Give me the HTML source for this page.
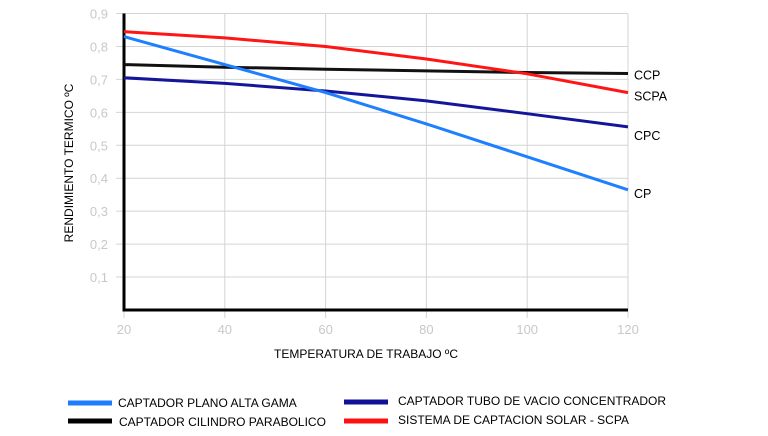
<!DOCTYPE html>
<html><head><meta charset="utf-8"><style>
body{margin:0;background:#fff;}
svg{display:block;font-family:"Liberation Sans",sans-serif;}
</style></head><body>
<svg width="768" height="436">
<g id="grid"></g><g id="series"></g><g id="labels"></g>
<text x="73" y="163" transform="rotate(-90 73 163)" text-anchor="middle" font-size="12" fill="#000">RENDIMIENTO TERMICO ºC</text>
<text x="366" y="358" text-anchor="middle" font-size="12" fill="#000">TEMPERATURA DE TRABAJO ºC</text>
<g>
<line x1="68" y1="403" x2="112" y2="403" stroke="#1e7cff" stroke-width="5"/>
<text x="118" y="407" font-size="12">CAPTADOR PLANO ALTA GAMA</text>
<line x1="68" y1="421" x2="112" y2="421" stroke="#000" stroke-width="5"/>
<text x="119" y="426" font-size="12">CAPTADOR CILINDRO PARABOLICO</text>
<line x1="344" y1="402" x2="388" y2="402" stroke="#10109a" stroke-width="5"/>
<text x="398" y="405" font-size="12">CAPTADOR TUBO DE VACIO CONCENTRADOR</text>
<line x1="344" y1="421" x2="388" y2="421" stroke="#ff1010" stroke-width="5"/>
<text x="398" y="424" font-size="12">SISTEMA DE CAPTACION SOLAR - SCPA</text>
</g>
</svg>
<script>
const xTicks=[20,40,60,80,100,120];
const yTicks=[0.1,0.2,0.3,0.4,0.5,0.6,0.7,0.8,0.9];
const yTickLabels=["0,1","0,2","0,3","0,4","0,5","0,6","0,7","0,8","0,9"];
const temps=[20,40,60,80,100,120];
const cpValues=[0.83,0.745,0.66,0.565,0.465,0.365];
const ccpValues=[0.745,0.737,0.731,0.726,0.721,0.718];
const cpcValues=[0.705,0.688,0.665,0.635,0.596,0.556];
const scpaValues=[0.845,0.826,0.8,0.762,0.717,0.66];
const seriesNames=["CP","CCP","CPC","SCPA"];
const NS="http://www.w3.org/2000/svg";
const X=v=>124+(v-20)*5.04;
const Y=v=>310-v*329.4;
function mk(t,a,p){const e=document.createElementNS(NS,t);for(const k in a)e.setAttribute(k,a[k]);p.appendChild(e);return e;}
const grid=document.getElementById('grid');
yTicks.forEach((v,i)=>{
 const l=mk('line',{x1:116,x2:628,y1:Y(v),y2:Y(v),stroke:'#d4d4d4','stroke-width':1},grid);
 
 
 const t=mk('text',{x:108,y:Y(v)+5,'text-anchor':'end','font-size':13,fill:'#c8c8c8'},grid);
 t.textContent=yTickLabels[i];
 
 
});
xTicks.forEach(v=>{
 const l=mk('line',{x1:X(v),x2:X(v),y1:Y(0.9),y2:318,stroke:'#d4d4d4','stroke-width':1},grid);
 
 
 const t=mk('text',{x:X(v),y:334,'text-anchor':'middle','font-size':13,fill:'#c8c8c8'},grid);
 t.textContent=v;
 
 
});
const ax=mk('path',{d:`M124 ${Y(0.9)} V310 H628`,fill:'none',stroke:'#000','stroke-width':3},grid);


const sg=document.getElementById('series');
const lg=document.getElementById('labels');
const defs=[[ccpValues,'#111','ccp'],[scpaValues,'#ff1515','scpa'],[cpcValues,'#15159a','cpc'],[cpValues,'#1e80ff','cp']];
const labelOff={ccp:6,scpa:8,cpc:13,cp:8};
defs.forEach(([vals,c,n])=>{
 const pts=temps.map((t,i)=>[X(t),Y(vals[i])]);
 let d=`M${pts[0][0]} ${pts[0][1]}`;
 for(let i=1;i<pts.length;i++){d+=` L${pts[i][0]} ${pts[i][1]}`;}
 const p=mk('path',{d,fill:'none',stroke:c,'stroke-width':3,'stroke-linejoin':'round'},sg);
 
 
 const last=pts[pts.length-1];
 const t=mk('text',{x:634,y:last[1]+labelOff[n],'font-size':12.5,fill:'#000'},lg);
 t.textContent=n.toUpperCase();
 
 
});
</script>
</body></html>
